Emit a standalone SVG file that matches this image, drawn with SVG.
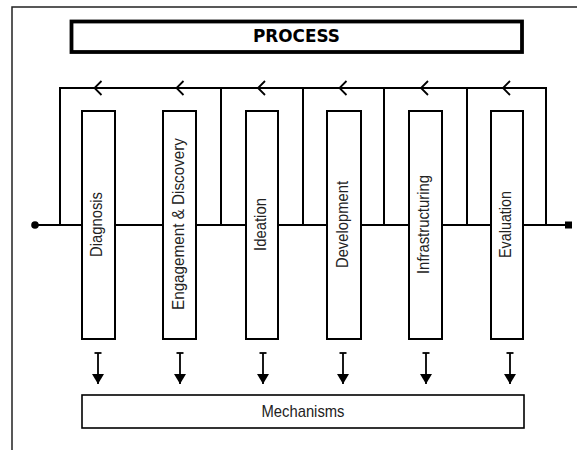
<svg xmlns="http://www.w3.org/2000/svg" width="577" height="450" viewBox="0 0 577 450">
  <defs>
    <style>
      .frame { fill: none; stroke: #222; stroke-width: 1.5; }
      .title-box { fill: #fff; stroke: #000; stroke-width: 3.8; }
      .title { font-family: "DejaVu Sans", "Liberation Sans", sans-serif; font-weight: bold; font-size: 17px; fill: #000; }
      .line { fill: none; stroke: #000; stroke-width: 2; }
      .chev { fill: none; stroke: #000; stroke-width: 1.8; stroke-linejoin: miter; }
      .stage { fill: #fff; stroke: #000; stroke-width: 2; }
      .label { font-family: "Liberation Sans Narrow", "Liberation Sans", Arial, sans-serif; font-size: 17px; fill: #222; }
      .mech { fill: #fff; stroke: #000; stroke-width: 1.6; }
      .drop { fill: none; stroke: #000; stroke-width: 1.8; }
    </style>
    <!-- filled head for the drops, drawn along +x so orient="auto" turns it downward -->
    <marker id="down" viewBox="0 0 10 12" refX="10" refY="6" markerUnits="userSpaceOnUse" markerWidth="10" markerHeight="13" orient="auto">
      <path d="M0 0 L10 6 L0 12 Z" fill="#000"/>
    </marker>
  </defs>

  <!-- page frame: top and left rules only -->
  <path class="frame" d="M12 450 V7 H577"/>

  <!-- heading -->
  <g id="process-title">
    <rect class="title-box" x="71.5" y="21.5" width="450.5" height="30.5"/>
    <text class="title" x="296.5" y="42" text-anchor="middle" textLength="87" lengthAdjust="spacingAndGlyphs">PROCESS</text>
  </g>

  <!-- connectors: feedback loop, main flow, and drops into mechanisms -->
  <g id="connectors">
    <path class="line" d="M60 225 V88 H546 V225"/>
    <path class="line" d="M221 88 V225 M303 88 V225 M384 88 V225 M467 88 V225"/>
    <path class="line" d="M35 225 H568"/>
    <circle cx="35" cy="225" r="3.8" fill="#000"/>
    <rect x="565" y="221.5" width="7" height="7" fill="#000"/>
    <path class="chev" d="M101.5 81 L94.5 88 L101.5 95"/>
    <path class="chev" d="M183.5 81 L176.5 88 L183.5 95"/>
    <path class="chev" d="M265 81 L258 88 L265 95"/>
    <path class="chev" d="M346.5 81 L339.5 88 L346.5 95"/>
    <path class="chev" d="M428 81 L421 88 L428 95"/>
    <path class="chev" d="M510 81 L503 88 L510 95"/>
    <g class="drops">
      <path class="drop" d="M94.5 353 H101.5"/>
      <path class="drop" d="M98 353 V384" marker-end="url(#down)"/>
      <path class="drop" d="M176.5 353 H183.5"/>
      <path class="drop" d="M180 353 V384" marker-end="url(#down)"/>
      <path class="drop" d="M259.5 353 H266.5"/>
      <path class="drop" d="M263 353 V384" marker-end="url(#down)"/>
      <path class="drop" d="M339.5 353 H346.5"/>
      <path class="drop" d="M343 353 V384" marker-end="url(#down)"/>
      <path class="drop" d="M422.5 353 H429.5"/>
      <path class="drop" d="M426 353 V384" marker-end="url(#down)"/>
      <path class="drop" d="M506.5 353 H513.5"/>
      <path class="drop" d="M510 353 V384" marker-end="url(#down)"/>
    </g>
  </g>

  <!-- stages -->
  <g id="diagnosis">
    <rect class="stage" x="82" y="111" width="33" height="228"/>
    <text class="label" transform="translate(101.5 224.5) rotate(-90)" text-anchor="middle" textLength="65" lengthAdjust="spacingAndGlyphs">Diagnosis</text>
  </g>
  <g id="engagement-discovery">
    <rect class="stage" x="163" y="111" width="33" height="228"/>
    <text class="label" transform="translate(183.5 224) rotate(-90)" text-anchor="middle" textLength="172" lengthAdjust="spacingAndGlyphs">Engagement &amp; Discovery</text>
  </g>
  <g id="ideation">
    <rect class="stage" x="246" y="111" width="32" height="228"/>
    <text class="label" transform="translate(265.5 224.5) rotate(-90)" text-anchor="middle" textLength="53" lengthAdjust="spacingAndGlyphs">Ideation</text>
  </g>
  <g id="development">
    <rect class="stage" x="327" y="111" width="34" height="228"/>
    <text class="label" transform="translate(347.5 224.5) rotate(-90)" text-anchor="middle" textLength="87" lengthAdjust="spacingAndGlyphs">Development</text>
  </g>
  <g id="infrastructuring">
    <rect class="stage" x="409" y="111" width="33" height="228"/>
    <text class="label" transform="translate(429 224.5) rotate(-90)" text-anchor="middle" textLength="99" lengthAdjust="spacingAndGlyphs">Infrastructuring</text>
  </g>
  <g id="evaluation">
    <rect class="stage" x="491" y="111" width="32" height="228"/>
    <text class="label" transform="translate(510.5 224.5) rotate(-90)" text-anchor="middle" textLength="67" lengthAdjust="spacingAndGlyphs">Evaluation</text>
  </g>

  <!-- outcome -->
  <g id="mechanisms">
    <rect class="mech" x="82" y="395" width="442" height="33"/>
    <text class="label" x="303" y="417" text-anchor="middle" textLength="83" lengthAdjust="spacingAndGlyphs">Mechanisms</text>
  </g>
</svg>
